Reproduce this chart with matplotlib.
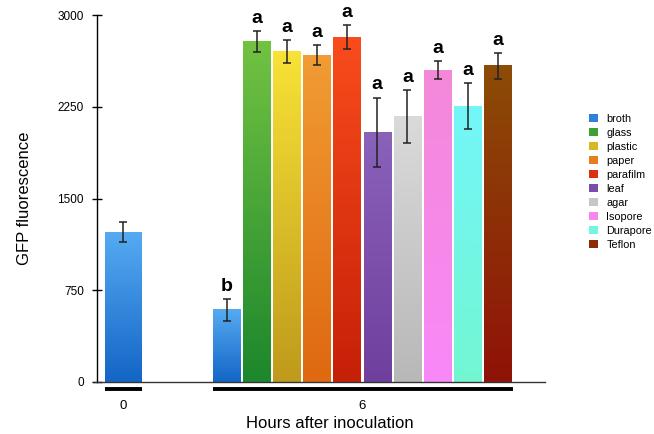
import numpy as np
import matplotlib
matplotlib.use("Agg")
import matplotlib.pyplot as plt
from matplotlib.colors import LinearSegmentedColormap
from matplotlib.patches import Patch

plt.rcParams['font.family'] = ['Liberation Sans', 'DejaVu Sans']

surfaces = ["broth", "glass", "plastic", "paper", "parafilm", "leaf",
            "agar", "Isopore", "Durapore", "Teflon"]
means_0h = [1225]
errs_0h = [80]
means_6h = [590, 2783, 2700, 2672, 2820, 2040, 2170, 2550, 2255, 2585]
errs_6h = [90, 88, 95, 80, 100, 285, 215, 72, 190, 105]
letters_6h = ["b", "a", "a", "a", "a", "a", "a", "a", "a", "a"]
hour_labels = ["0", "6"]

# (top, bottom) colours of each bar's gradient
grad = {
    "broth": ("#55aaf2", "#1466c6"),
    "glass": ("#72c242", "#1c872c"),
    "plastic": ("#f8e236", "#bf9a1c"),
    "paper": ("#f19c34", "#df6810"),
    "parafilm": ("#f94c1c", "#c52008"),
    "leaf": ("#8a62ba", "#6f3f9e"),
    "agar": ("#dadada", "#b8b8b8"),
    "Isopore": ("#f488d8", "#f988f8"),
    "Durapore": ("#74f6f8", "#72f6d2"),
    "Teflon": ("#8c4c06", "#901208"),
}

fig = plt.figure(figsize=(6.54, 4.34), dpi=100)
ax = fig.add_axes([97/654, 52/434, 448/654, 367/434])

x0 = np.array([0.0])
x6 = 3.43 + np.arange(len(means_6h))
w0, w6 = 1.2, 0.91

ramp = np.linspace(0, 1, 100).reshape(-1, 1)

def draw_bars(xs, vals, errs, names, width):
    bars = ax.bar(xs, vals, width=width, color="none", edgecolor="none")
    for b, name in zip(bars, names):
        top, bot = grad[name]
        cmap = LinearSegmentedColormap.from_list(name, [top, bot])
        ax.imshow(ramp, cmap=cmap, aspect="auto", zorder=1,
                  extent=[b.get_x(), b.get_x() + b.get_width(), 0, b.get_height()])
    ax.errorbar(xs, vals, yerr=errs, fmt="none", ecolor="#222222",
                elinewidth=1.1, capsize=3, capthick=1.1, zorder=3)
    return bars

draw_bars(x0, means_0h, errs_0h, ["broth"], w0)
draw_bars(x6, means_6h, errs_6h, surfaces, w6)

for x, v, e, l in zip(x6, means_6h, errs_6h, letters_6h):
    ax.annotate(l, (x, v + e), xytext=(0, 3), textcoords="offset points",
                ha="center", va="bottom", fontsize=14, fontweight="bold")

ax.set_xlim(-0.88, 14.0)
ax.set_ylim(0, 3000)
ax.set_yticks([0, 750, 1500, 2250, 3000])
ax.tick_params(axis="y", direction="inout", length=7, width=1, labelsize=8.5, pad=6)

# group underlines
ax.plot([x0[0] - w0/2, x0[0] + w0/2], [-57, -57], color="black", lw=2.8,
        clip_on=False, solid_capstyle="butt")
ax.plot([x6[0] - w6/2, x6[-1] + w6/2 + 0.06], [-57, -57], color="black", lw=2.8,
        clip_on=False, solid_capstyle="butt")
ax.set_xticks([x0[0], (x6[0] - w6/2 + x6[-1] + w6/2) / 2])
ax.set_xticklabels(hour_labels)
ax.tick_params(axis="x", length=0, labelsize=9.5, pad=13)

for s in ["top", "right"]:
    ax.spines[s].set_visible(False)
ax.spines["left"].set_linewidth(1)
ax.spines["bottom"].set_linewidth(1)
ax.spines["bottom"].set_color("#333333")
ax.spines["bottom"].set_bounds(-0.98, 14.0)

ax.set_ylabel("GFP fluorescence", fontsize=12, labelpad=18)
ax.set_xlabel("Hours after inoculation", fontsize=12)
ax.xaxis.set_label_coords(0.52, -0.092)

handles = []
for s in surfaces:
    t, b = grad[s]
    c = np.array(matplotlib.colors.to_rgb(t)) * 0.4 + np.array(matplotlib.colors.to_rgb(b)) * 0.6
    handles.append(Patch(facecolor=c, edgecolor="none"))
fig.legend(handles, surfaces, loc="upper left", bbox_to_anchor=(589/654, 1 - 114/434),
           frameon=False, fontsize=7.8, handlelength=0.8, handleheight=0.8,
           handletextpad=0.8, labelspacing=0.37, borderpad=0, borderaxespad=0)

fig.savefig("out.png", dpi=100)
